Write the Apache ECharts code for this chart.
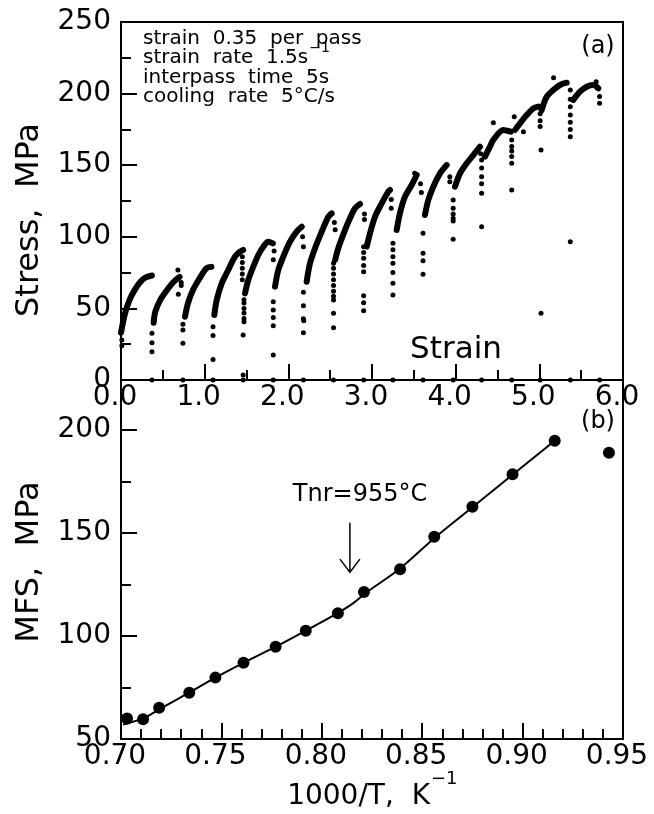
<!DOCTYPE html>
<html><head><meta charset="utf-8">
<script src="https://cdn.jsdelivr.net/npm/echarts@6/dist/echarts.min.js"></script>
<style>html,body{margin:0;padding:0;background:#fff}#c{width:654px;height:814px}</style>
</head><body><div id="c"></div>
<script>
// ---------- panel (a): multipass flow curves (strain, stress MPa) ----------
const strainRange = [0, 6];
const stressRange = [0, 250];
const pass01 = [[0.0,33],[0.05,47],[0.11,57],[0.17,63.5],[0.23,68.5],[0.29,71.5],[0.37,73]];
const pass02 = [[0.39,40],[0.41,47.7],[0.47,56],[0.55,62.8],[0.63,68.6],[0.70,72]];
const pass03 = [[0.765,44.2],[0.80,53.5],[0.86,62.8],[0.94,71],[1.02,78],[1.08,79]];
const pass04 = [[1.115,45.4],[1.144,55.9],[1.204,67.5],[1.282,76.8],[1.362,86.1],[1.422,89.6],[1.46,90.8]];
const pass05 = [[1.482,60.5],[1.521,69.8],[1.581,79.1],[1.641,87.3],[1.701,93.1],[1.76,96.6],[1.815,95.4]];
const pass06 = [[1.841,65.2],[1.88,76.8],[1.94,86.1],[2.02,96.6],[2.10,103.6],[2.16,107]];
const pass07 = [[2.219,68.6],[2.259,81.5],[2.319,92],[2.399,103.6],[2.478,114],[2.518,116.4]];
const pass08 = [[2.56,84],[2.597,92],[2.677,104.7],[2.737,112.9],[2.797,119.9],[2.857,122.9]];
const pass09 = [[2.937,93.1],[2.976,102.4],[3.036,114],[3.116,123.4],[3.195,131.5],[3.215,132.7]];
const pass10 = [[3.295,104.7],[3.334,116.4],[3.394,128],[3.474,136.2],[3.534,143.2]];
const pass11 = [[3.633,115.2],[3.673,125.7],[3.733,135],[3.813,144.3],[3.893,150.1]];
const pass12 = [[3.992,135],[4.052,144.3],[4.132,151.3],[4.211,157.1],[4.291,162.9]];
const pass13 = [[4.35,156],[4.41,163],[4.45,167.6],[4.569,174.6],[4.66,173.4]];
const pass14 = [[4.709,174.6],[4.769,179.2],[4.849,185],[4.928,189.7],[4.988,190.9]];
const pass15 = [[5.028,188.5],[5.088,197.8],[5.167,202.5],[5.247,206],[5.327,207.6]];
const pass16 = [[5.406,195.5],[5.486,201.3],[5.566,204.8],[5.645,206],[5.705,203.7]];
const sparseDots = [
  [0.01,28],[0.01,24],
  [0.37,32.6],[0.37,26],[0.37,19.8],[0.685,59.8],[0.68,76.8],[0.72,68],[0.72,66],
  [0.74,35],[0.74,39],[0.74,25.6],
  [1.10,37.2],[1.10,31],[1.10,14.4],
  [1.45,86],[1.45,82],[1.45,78],[1.45,74],[1.45,70],
  [1.47,56],[1.47,53.8],[1.47,50],[1.47,46.8],[1.47,43],[1.47,40.7],[1.46,31.4],[1.46,3.5],
  [1.83,90],[1.82,84],
  [1.82,54.7],[1.82,48.9],[1.82,43.7],[1.82,37.9],[1.82,17.5],
  [2.17,100],[2.18,93],
  [2.18,61.2],[2.18,51.9],[2.18,42.8],[2.185,41.4],[2.18,33],
  [2.55,110],[2.56,105],
  [2.54,81.5],[2.54,78],[2.54,74],[2.54,70],[2.54,66],[2.54,62],[2.54,58.5],[2.54,55.9],[2.54,46.6],[2.54,36.5],
  [2.91,116],[2.91,112],
  [2.90,93],[2.90,89],[2.90,85],[2.90,80],[2.90,75.6],[2.90,58.9],[2.90,54],[2.90,48.4],
  [3.23,126],[3.23,120],
  [3.25,95.5],[3.25,91],[3.25,86],[3.25,81.5],[3.25,75],[3.25,67.5],[3.25,59.4],
  [3.51,144.3],[3.58,137],[3.59,131],
  [3.61,102.4],[3.61,88.5],[3.61,83.3],[3.61,73.8],
  [3.93,142],[3.93,138.5],
  [3.97,125.7],[3.97,120],[3.97,116],[3.97,112.9],[3.97,111],[3.97,98.3],
  [4.30,158],
  [4.31,153.6],[4.31,148],[4.31,142],[4.31,137],[4.31,130.4],[4.31,107],
  [4.45,179.7],[4.70,183.9],[4.81,173.4],
  [4.67,167.6],[4.67,163],[4.67,160],[4.67,156],[4.67,151.3],[4.67,132.7],
  [5.01,186],[5.01,181],[5.01,177],[5.02,160.6],[5.02,46.6],
  [5.17,211.1],
  [5.37,202.5],[5.37,196],[5.37,190.9],[5.37,185],[5.37,180],[5.37,175],[5.37,169.9],[5.37,96.6],
  [5.72,193.2],[5.72,198],[5.68,208.3]
];
const zeroStrains = [0.37,0.74,1.10,1.46,1.82,2.18,2.54,2.90,3.25,3.61,3.97,4.31,4.67,5.01,5.37,5.72];

// ---------- panel (b): mean flow stress vs 1000/T ----------
const invTRange = [0.70, 0.95];
const mfsRange = [50, 224.3];
const invT = [0.703,0.711,0.719,0.734,0.747,0.761,0.777,0.792,0.808,0.821,0.839,0.856,0.875,0.895,0.916,0.943];
const mfs  = [60.0,59.6,65.2,72.5,79.8,87.0,94.8,102.6,111.0,121.4,132.4,148.2,162.8,178.5,194.8,189.0];
const fitInvT = [0.701,0.711,0.720,0.734,0.747,0.761,0.777,0.792,0.805,0.815,0.822,0.839,0.856,0.875,0.895,0.916];
const fitMfs  = [57.0,60.0,65.0,72.5,79.8,87.0,94.8,102.6,109.5,115.5,121.0,132.8,147.5,162.5,178.3,194.8];
const tnrArrowX = 0.814;
const tnrArrowY = [155, 131];

const FONT = 'DejaVu Sans';
const passes = [pass01,pass02,pass03,pass04,pass05,pass06,pass07,pass08,pass09,pass10,pass11,pass12,pass13,pass14,pass15,pass16];

const chart = echarts.init(document.getElementById('c'), null, {renderer: 'canvas'});

function xAxisBase(grid, range, interval, minorSplit, digits) {
  return {
    type: 'value', gridIndex: grid, min: range[0], max: range[1], interval: interval,
    axisLine: {show: true, onZero: false, lineStyle: {color: '#000', width: 2}},
    axisTick: {show: true, inside: true, length: 16, lineStyle: {color: '#000', width: 2}},
    minorTick: {show: true, splitNumber: minorSplit, length: 10, lineStyle: {color: '#000', width: 2}},
    splitLine: {show: false}, minorSplitLine: {show: false},
    axisLabel: {color: '#000', fontFamily: FONT, fontSize: 28, margin: 4, padding: [0, 12, 0, 0],
      formatter: v => Number(v).toFixed(digits)}
  };
}

const series = [];
passes.forEach(p => series.push({
  type: 'line', xAxisIndex: 0, yAxisIndex: 0, data: p, symbol: 'none', smooth: 0.3,
  lineStyle: {color: '#000', width: 6, cap: 'round', join: 'round'}, silent: true
}));
series.push({type: 'scatter', xAxisIndex: 0, yAxisIndex: 0, data: sparseDots, symbolSize: 5,
  itemStyle: {color: '#000', opacity: 1}, silent: true});
series.push({type: 'scatter', xAxisIndex: 0, yAxisIndex: 0, data: zeroStrains.map(s => [s, 0]), symbolSize: 5,
  itemStyle: {color: '#000', opacity: 1}, silent: true, clip: false});
series.push({type: 'line', xAxisIndex: 1, yAxisIndex: 1, data: fitInvT.map((x, i) => [x, fitMfs[i]]),
  symbol: 'none', smooth: 0.3, lineStyle: {color: '#000', width: 2}, silent: true});
series.push({type: 'scatter', xAxisIndex: 1, yAxisIndex: 1, data: invT.map((x, i) => [x, mfs[i]]),
  symbolSize: 12, itemStyle: {color: '#000', opacity: 1}, silent: true});

chart.setOption({
  animation: false,
  backgroundColor: '#fff',
  grid: [
    {left: 121, top: 22, width: 502, height: 358, show: true, borderColor: '#000', borderWidth: 2, backgroundColor: 'transparent'},
    {left: 121, top: 380, width: 502, height: 359, show: true, borderColor: '#000', borderWidth: 2, backgroundColor: 'transparent'}
  ],
  xAxis: [
    xAxisBase(0, strainRange, 1, 2, 1),
    xAxisBase(1, invTRange, 0.05, 5, 2)
  ],
  yAxis: [
    {type: 'value', gridIndex: 0, min: stressRange[0], max: stressRange[1], interval: 50,
      axisLine: {show: true, onZero: false, lineStyle: {color: '#000', width: 2}},
      axisTick: {show: true, inside: true, length: 16, lineStyle: {color: '#000', width: 2}},
      minorTick: {show: true, splitNumber: 2, length: 10, lineStyle: {color: '#000', width: 2}},
      splitLine: {show: false}, minorSplitLine: {show: false},
      axisLabel: {color: '#000', fontFamily: FONT, fontSize: 28, margin: 10}},
    {type: 'value', gridIndex: 1, min: mfsRange[0], max: mfsRange[1], interval: 50,
      axisLine: {show: true, onZero: false, lineStyle: {color: '#000', width: 2}},
      axisTick: {show: true, inside: true, length: 16, lineStyle: {color: '#000', width: 2}},
      splitLine: {show: false},
      axisLabel: {color: '#000', fontFamily: FONT, fontSize: 28, margin: 10,
        formatter: v => (Math.abs(v % 50) < 1e-6 ? String(v) : '')}},
    {type: 'value', gridIndex: 1, min: mfsRange[0], max: mfsRange[1], interval: 25, position: 'left',
      axisLine: {show: false}, axisLabel: {show: false}, splitLine: {show: false},
      axisTick: {show: true, inside: true, length: 10, lineStyle: {color: '#000', width: 2}}}
  ],
  series: series
});

// text measuring for superscripts
const mctx = document.createElement('canvas').getContext('2d');
function tw(str, size) { mctx.font = size + 'px "' + FONT + '"'; return mctx.measureText(str).width; }

function txt(str, x, y, size, align, vAlign, rot) {
  return {type: 'text', x: x, y: y, rotation: rot || 0, silent: true,
    style: {text: str, fill: '#000', fontSize: size, fontFamily: FONT, align: align || 'left', verticalAlign: vAlign || 'middle'}};
}

const annoX = 143, annoSize = 20;
const line2 = 'strain  rate  1.5s';
const xName = '1000/T,  K';
const xNameRight = 430;

const arrowTop = chart.convertToPixel({xAxisIndex: 1, yAxisIndex: 1}, [tnrArrowX, tnrArrowY[0]]);
const arrowBot = chart.convertToPixel({xAxisIndex: 1, yAxisIndex: 1}, [tnrArrowX, tnrArrowY[1]]);

chart.setOption({
  graphic: [
    txt('Stress,  MPa', 30, 220, 32, 'center', 'middle', Math.PI / 2),
    txt('MFS,  MPa', 30, 562, 32, 'center', 'middle', Math.PI / 2),
    txt('Strain', 456, 350, 31, 'center', 'middle'),
    txt('strain  0.35  per  pass', annoX, 38.5, annoSize),
    txt(line2, annoX, 58, annoSize),
    txt('\u22121', annoX + tw(line2, annoSize) + 1, 48, 14),
    txt('interpass  time  5s', annoX, 77.5, annoSize),
    txt('cooling  rate  5\u00B0C/s', annoX, 97, annoSize),
    txt('(a)', 598, 47, 24, 'center', 'middle'),
    txt('(b)', 598, 422, 24, 'center', 'middle'),
    txt('Tnr=955\u00B0C', 360, 495, 24, 'center', 'middle'),
    txt(xName, xNameRight, 797, 28, 'right', 'middle'),
    txt('\u22121', xNameRight + 1, 779, 18, 'left', 'middle'),
    {type: 'line', silent: true, shape: {x1: arrowTop[0], y1: arrowTop[1], x2: arrowBot[0], y2: arrowBot[1]},
      style: {stroke: '#000', lineWidth: 1.5}},
    {type: 'polyline', silent: true,
      shape: {points: [[arrowBot[0] - 10, arrowBot[1] - 13], [arrowBot[0], arrowBot[1]], [arrowBot[0] + 10, arrowBot[1] - 13]]},
      style: {stroke: '#000', lineWidth: 1.5, fill: null}}
  ]
});
</script>
</body></html>
